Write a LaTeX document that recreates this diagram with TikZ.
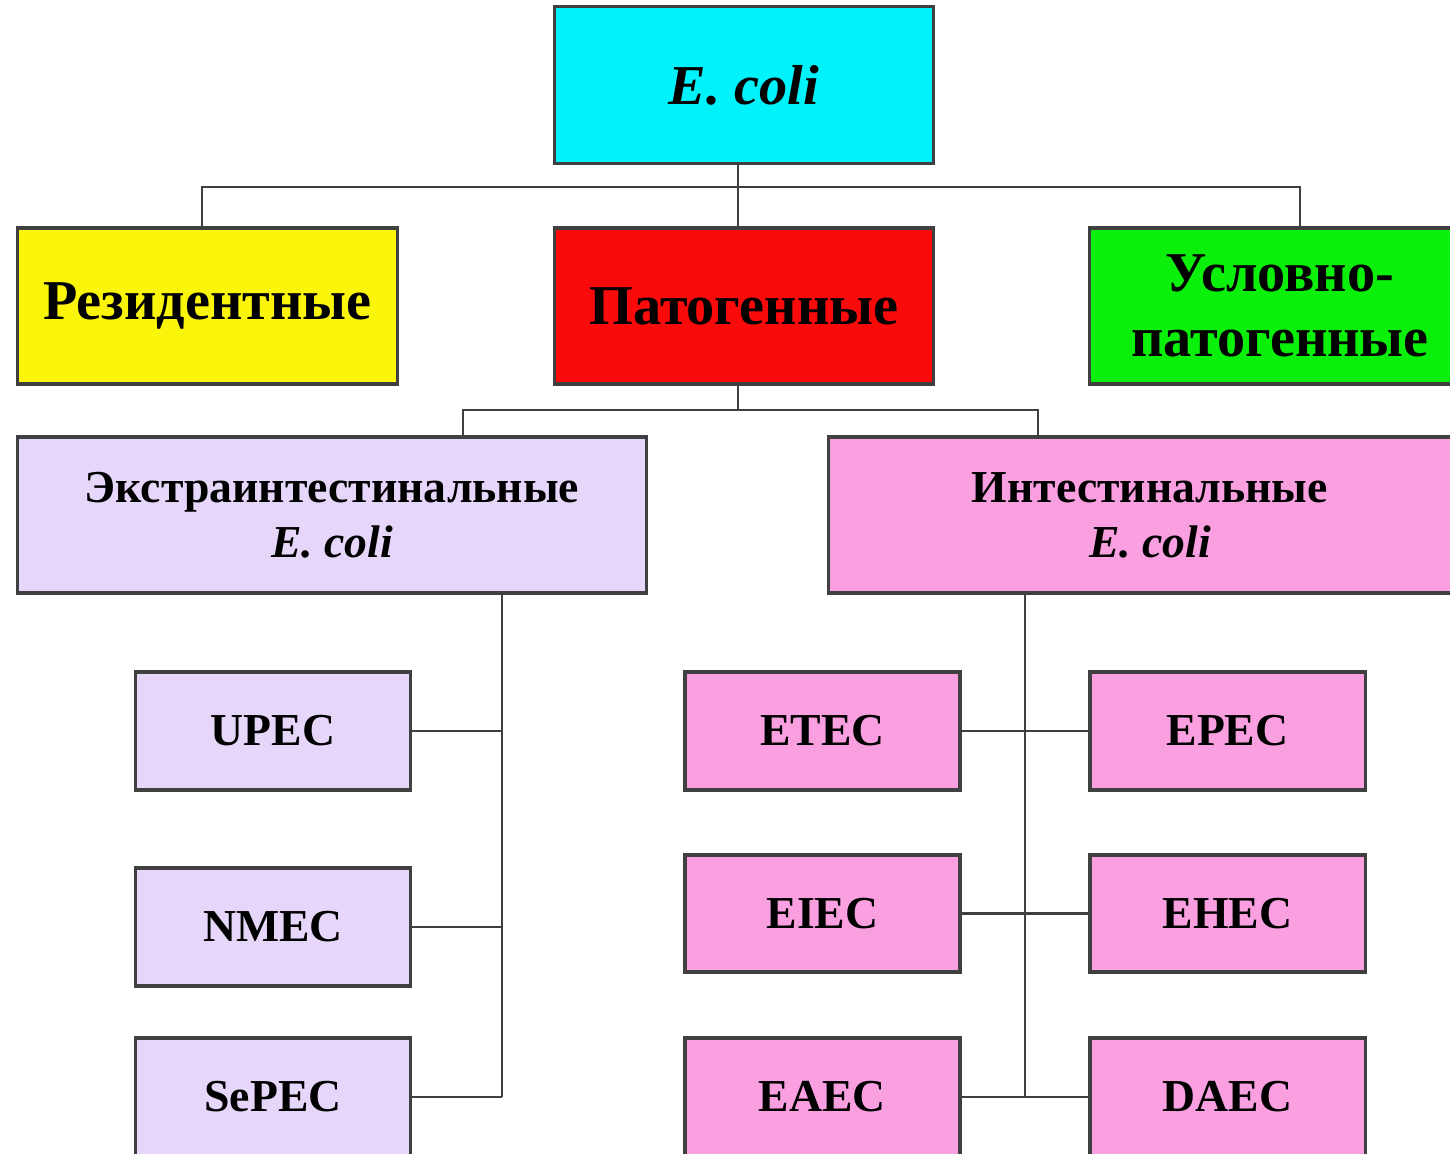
\documentclass[tikz,border=0pt]{standalone}
\usepackage{fontspec}
\setmainfont{Liberation Serif}
\usepackage{tikz}
\usetikzlibrary{calc}

\definecolor{ecolicyan}{RGB}{0,242,250}
\definecolor{resyellow}{RGB}{250,245,10}
\definecolor{patred}{RGB}{250,10,10}
\definecolor{ucpgreen}{RGB}{10,240,10}
\definecolor{extlilac}{RGB}{230,215,250}
\definecolor{intpink}{RGB}{250,160,225}

\begin{document}
\begin{tikzpicture}[x=0.01cm, y=-0.01cm,
    box/.style={rectangle, draw=black!75, line width=0.9pt, align=center, inner sep=0pt},
    bigbox/.style={box, minimum width=3.79cm, minimum height=1.56cm, font=\fontsize{16}{18.5}\selectfont\bfseries},
    groupbox/.style={box, minimum height=1.56cm, font=\fontsize{13}{15.6}\selectfont\bfseries},
    smallbox/.style={box, minimum width=2.75cm, minimum height=1.18cm, font=\fontsize{13}{16}\selectfont\bfseries},
    conn/.style={draw=black!75, line width=0.7pt}]
    \clip (0,0) rectangle (1450,1153);
    \fill [white] (0,0) rectangle (1450,1153);
    % Place nodes
    \node [bigbox, fill=ecolicyan, minimum height=1.57cm] (ecoli) at (744,85) {\textit{E. coli}};
    \node [bigbox, fill=resyellow] (res) at (207.5,306) {Резидентные};
    \node [bigbox, fill=patred] (pat) at (744,306) {Патогенные};
    \node [bigbox, fill=ucpgreen, minimum width=3.8cm] (ucp) at (1280,306) {Условно-\\патогенные};
    \node [groupbox, fill=extlilac, minimum width=6.28cm] (extra) at (332,515) {Экстраинтестинальные\\\textit{E. coli}};
    \node [groupbox, fill=intpink, minimum width=6.42cm] (intest) at (1150,515) {Интестинальные\\\textit{E. coli}};
    \node [smallbox, fill=extlilac] (upec) at (273,731) {UPEC};
    \node [smallbox, fill=extlilac] (nmec) at (273,927) {NMEC};
    \node [smallbox, fill=extlilac] (sepec) at (273,1097) {SePEC};
    \node [smallbox, fill=intpink] (etec) at (822.5,731) {ETEC};
    \node [smallbox, fill=intpink] (epec) at (1227.5,731) {EPEC};
    \node [smallbox, fill=intpink, minimum height=1.17cm] (eiec) at (822.5,913.5) {EIEC};
    \node [smallbox, fill=intpink, minimum height=1.17cm] (ehec) at (1227.5,913.5) {EHEC};
    \node [smallbox, fill=intpink] (eaec) at (822.5,1097) {EAEC};
    \node [smallbox, fill=intpink] (daec) at (1227.5,1097) {DAEC};
    % bend points
    \coordinate (busL) at (202,187);
    \coordinate (busM) at (738,187);
    \coordinate (busR) at (1300,187);
    \coordinate (subL) at (463,410);
    \coordinate (subM) at (738,410);
    \coordinate (subR) at (1038,410);
    \coordinate (trunkL) at (502,1097);
    \coordinate (trunkR) at (1025,1097);
    % Draw connectors
    \path [conn] (busM |- ecoli.south) -- (busM |- pat.north);
    \path [conn] (busL |- res.north) -- (busL) -- (busR) -- (busR |- ucp.north);
    \path [conn] (subM |- pat.south) -- (subM);
    \path [conn] (subL |- extra.north) -- (subL) -- (subR) -- (subR |- intest.north);
    \path [conn] (trunkL |- extra.south) -- (trunkL);
    \path [conn] (upec.east) -- (upec.east -| trunkL);
    \path [conn] (nmec.east) -- (nmec.east -| trunkL);
    \path [conn] (sepec.east) -- (sepec.east -| trunkL);
    \path [conn] (trunkR |- intest.south) -- (trunkR);
    \path [conn] (etec.east) -- (epec.west);
    \path [conn] (eiec.east) -- (ehec.west);
    \path [conn] (eaec.east) -- (daec.west);
\end{tikzpicture}
\end{document}
